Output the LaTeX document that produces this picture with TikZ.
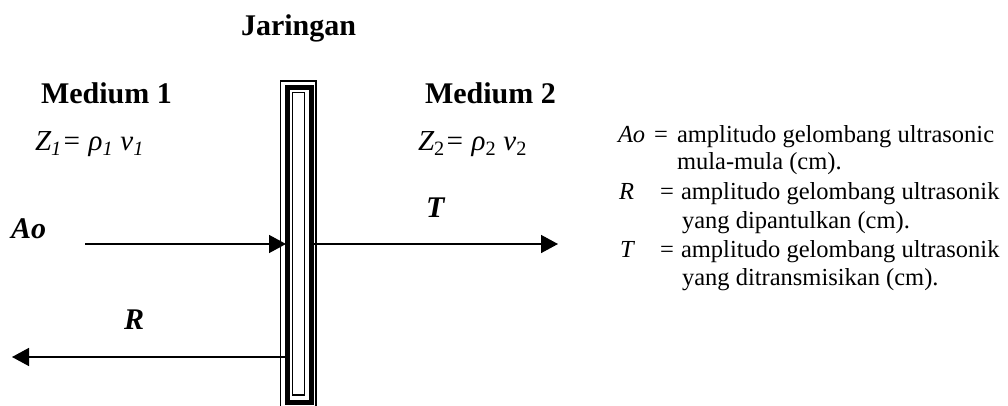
\documentclass[tikz,border=0pt]{standalone}
\usepackage{fontspec}
\setmainfont{Liberation Serif}
\usetikzlibrary{arrows.meta}
\begin{document}
\begin{tikzpicture}[x=1pt,y=-1pt,
  lbl/.style={anchor=base west,inner sep=0pt,outer sep=0pt},
  head/.style={lbl,font=\fontsize{30}{35}\selectfont\bfseries},
  eqn/.style={lbl,font=\fontsize{29}{34}\selectfont\itshape},
  wave/.style={lbl,font=\fontsize{30}{35}\selectfont\bfseries\itshape},
  leg/.style={lbl,font=\fontsize{24.5}{29}\selectfont},
  legi/.style={leg,font=\fontsize{24.5}{29}\selectfont\itshape},
  ray/.style={line width=1.5pt,-{Triangle[length=17pt,width=18pt]}}]
\useasboundingbox (0,0) rectangle (1008,406);
% headings
\node[head] (jar) at (241,36) {Jaringan};
\node[head] (m1) at (41,104) {Medium 1};
\node[head] (m2) at (425,104) {Medium 2};
\node[eqn] (z1) at (35,151) {Z\textsubscript{1}= ρ\textsubscript{1} v\textsubscript{1}};
\node[eqn] (z2) at (418,151) {Z{\upshape\textsubscript{2}}= ρ{\upshape\textsubscript{2}} v{\upshape\textsubscript{2}}};
% wave labels
\node[wave] (ao) at (11,238) {Ao};
\node[wave] (tl) at (426,217) {T};
\node[wave] (rl) at (124,329) {R};
% barrier (tissue)
\draw[line width=1.3pt] (280.5,410) -- (280.5,81) -- (316,81) -- (316,410);
\draw[line width=4.5pt] (287.5,87.5) rectangle (311.3,402.5);
\draw[line width=1.5pt] (292.5,92.5) rectangle (304.5,395);
% connectors
\coordinate (aoS) at (85,244);
\coordinate (wallL) at (286,244);
\coordinate (wallR) at (313,244);
\coordinate (tE) at (558,244);
\coordinate (wallR2) at (285,357);
\coordinate (rE) at (12,357);
\draw[ray] (aoS) -- (wallL);
\draw[ray] (wallR) -- (tE);
\draw[ray] (wallR2) -- (rE);
% legend
\node[legi] (la) at (618,143) {Ao};
\node[leg] (lae) at (654,143) {=};
\node[leg] (lat) at (677,143) {amplitudo gelombang ultrasonic};
\node[leg] (la2) at (677,170) {mula-mula (cm).};
\node[legi] (lr) at (619,199) {R};
\node[leg] (lre) at (660,199) {=};
\node[leg] (lrt) at (681,199) {amplitudo gelombang ultrasonik};
\node[leg] (lr2) at (682,228) {yang dipantulkan (cm).};
\node[legi] (lt) at (620,257) {T};
\node[leg] (lte) at (660,257) {=};
\node[leg] (ltt) at (681,257) {amplitudo gelombang ultrasonik};
\node[leg] (lt2) at (682,285) {yang ditransmisikan (cm).};
\end{tikzpicture}
\end{document}
